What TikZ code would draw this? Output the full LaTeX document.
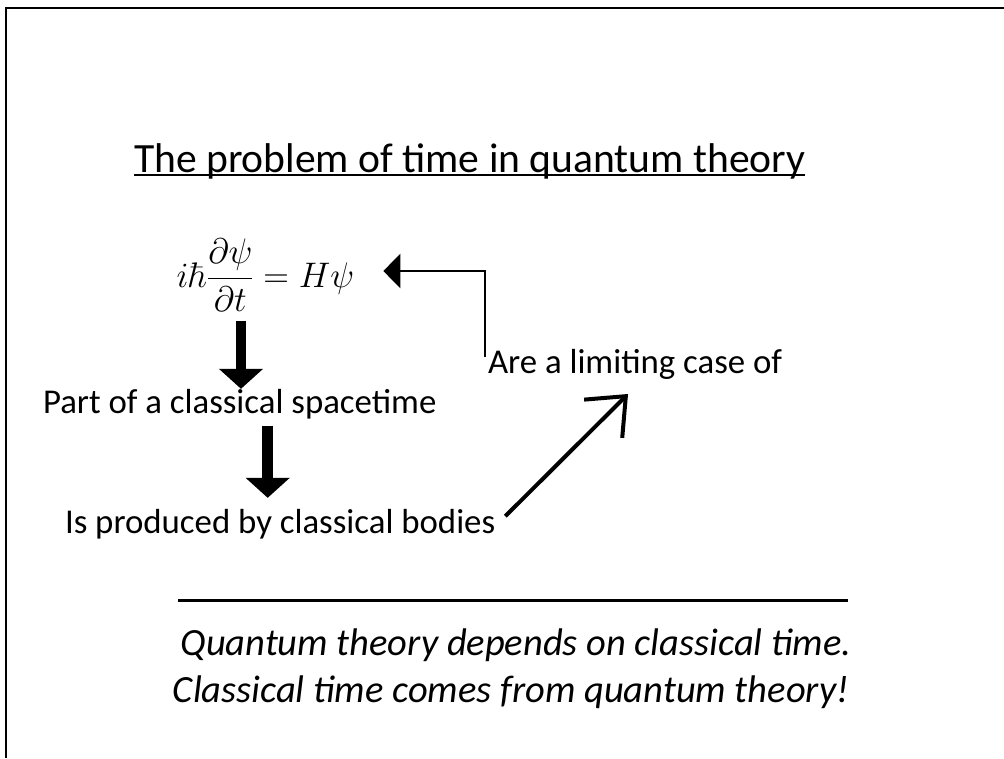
\documentclass[tikz,border=0pt]{standalone}
\usepackage{fix-cm}
\usepackage{amsmath}
\usepackage[no-math]{fontspec}
\setmainfont{Carlito}
\usetikzlibrary{arrows.meta, positioning}

\newcommand{\titlesize}{\fontsize{41.6}{50}\selectfont}
\newcommand{\claimsize}{\fontsize{34.8}{42}\selectfont}
\newcommand{\remarksize}{\fontsize{38.5}{47}\selectfont}

\begin{document}
\begin{tikzpicture}[
    x=1pt, y=-1pt,
    every node/.style={inner sep=0pt, outer sep=0pt},
    heading/.style={anchor=base west, font=\titlesize},
    claim/.style={anchor=base west, font=\claimsize},
    remark/.style={anchor=base, font=\remarksize\itshape},
    thickdown/.style={line width=10.5pt, -{Triangle[length=20pt, width=43pt]}},
    elbow/.style={line width=2.7pt, -{Triangle[length=17pt, width=34pt]}},
    slant/.style={line width=4pt, -{Straight Barb[length=32pt, width=54pt]}},
  ]
  \useasboundingbox (0,0) rectangle (1004,758);
  \draw[line width=2pt] (6,758) -- (6,8) -- (1004,8);

  \node[heading] (title) at (134,172) {The problem of time in quantum theory};
  \draw[line width=2pt] ([yshift=-2.5pt]title.base west) -- ([yshift=-2.5pt]title.base east);

  \node[font=\fontsize{35.5}{42}\selectfont] (eq) at (265.5,275)
    {$\displaystyle i\hbar\frac{\partial\psi}{\partial t} = H\psi$};
  \node[claim] (part) at (43,413) {Part of a classical spacetime};
  \node[claim] (body) at (65,533) {Is produced by classical bodies};
  \node[claim] (limit) at (488,373) {Are a limiting case of};

  \node[remark, anchor=center] (rule) at (513,600) {\rule{670pt}{3pt}};
  \node[remark] (depends) at (516,655) {Quantum theory depends on classical time.};
  \node[remark] (comes) at (511,702) {Classical time comes from quantum theory!};

  \draw[thickdown, shorten <=9pt] ([xshift=-24.5pt]eq.south) -- ([xshift=-24.5pt]eq.south |- part.north);
  \draw[thickdown, shorten <=7pt, shorten >=11pt] ([xshift=28pt]part.south) -- ([xshift=28pt]part.south |- body.north);
  \draw[elbow, shorten >=29pt] ([shift={(-3pt,-8pt)}]limit.north west) |- ([yshift=4pt]eq.east);
  \draw[slant] ([xshift=10pt, yshift=7.5pt]body.east) -- ([xshift=-7pt, yshift=-15pt]limit.south);
\end{tikzpicture}
\end{document}
